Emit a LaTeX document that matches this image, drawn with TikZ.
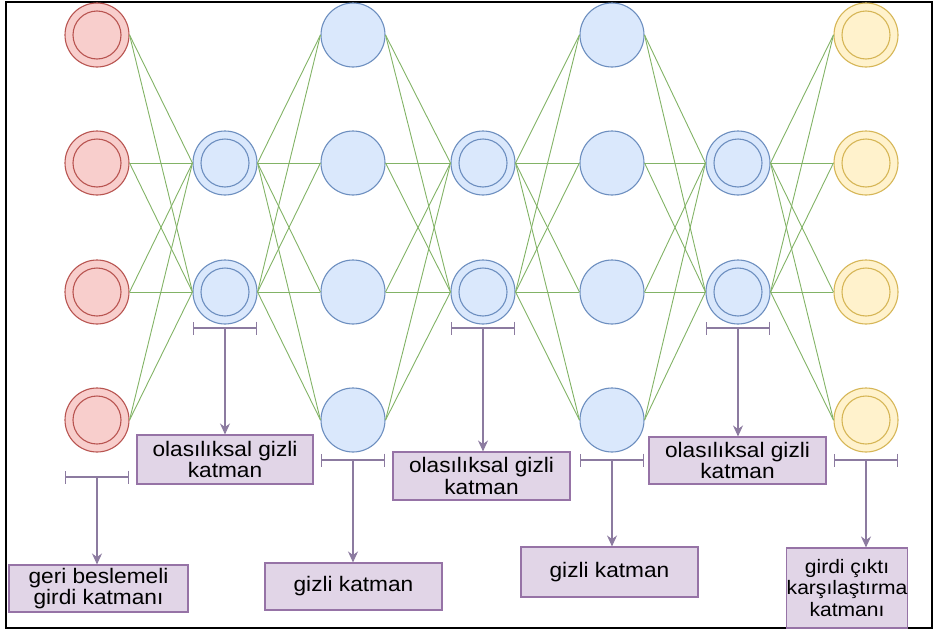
\documentclass[tikz,border=0pt]{standalone}
\usepackage{fontspec}
\setmainfont[FakeStretch=1.08]{Liberation Sans}
\usepackage{tikz}
\usetikzlibrary{arrows.meta}
\usepackage{xcolor}

\definecolor{redfill}{HTML}{F8CECC}
\definecolor{redline}{HTML}{B85450}
\definecolor{bluefill}{HTML}{DAE8FC}
\definecolor{blueline}{HTML}{6C8EBF}
\definecolor{yelfill}{HTML}{FFF2CC}
\definecolor{yelline}{HTML}{D6B656}
\definecolor{linkgreen}{HTML}{82B366}
\definecolor{boxfill}{HTML}{E1D5E7}
\definecolor{boxline}{HTML}{9673A6}
\definecolor{pointcol}{HTML}{8C7BA0}

\begin{document}
\begin{tikzpicture}[x=1pt, y=-1pt,
        unit/.style={circle, minimum size=64pt, inner sep=0pt, line width=1.1pt},
        redn/.style={unit, fill=redfill, draw=redline},
        bluen/.style={unit, fill=bluefill, draw=blueline},
        yeln/.style={unit, fill=yelfill, draw=yelline},
        link/.style={linkgreen, line width=0.9pt},
        labelbox/.style={draw=boxline, fill=boxfill, line width=1.1pt, align=center,
            inner sep=0pt, font=\fontsize{21}{21.5}\selectfont},
        bracket/.style={pointcol, line width=1.1pt, {Bar[width=13pt]}-{Bar[width=13pt]}},
        pointer/.style={pointcol, line width=1.1pt, -{Stealth[length=11pt, width=10pt]}}]
        \useasboundingbox (0,0) rectangle (937,632);
        \draw[line width=2pt] (6,2) rectangle (932,628);
        % units
        \foreach \r/\y in {1/35, 2/163, 3/292, 4/420}
        {
            \node[redn] (a\r) at (97,\y) {};
            \draw[redline, line width=1.1pt] (a\r.center) circle (24);
            \node[bluen] (c\r) at (353,\y) {};
            \node[bluen] (e\r) at (612,\y) {};
            \node[yeln] (g\r) at (866,\y) {};
            \draw[yelline, line width=1.1pt] (g\r.center) circle (24);
        }
        \foreach \r/\y in {2/163, 3/292}
        {
            \node[bluen] (b\r) at (225,\y) {};
            \node[bluen] (d\r) at (483,\y) {};
            \node[bluen] (f\r) at (738,\y) {};
            \foreach \k in {b,d,f}
                \draw[blueline, line width=1.1pt] (\k\r.center) circle (24);
        }
        % links
        \foreach \s in {1,...,4}
            \foreach \t in {2,3}
            {
                \draw[link] (a\s.east) -- (b\t.west);
                \draw[link] (b\t.east) -- (c\s.west);
                \draw[link] (c\s.east) -- (d\t.west);
                \draw[link] (d\t.east) -- (e\s.west);
                \draw[link] (e\s.east) -- (f\t.west);
                \draw[link] (f\t.east) -- (g\s.west);
            }
        % labels
        \node[labelbox, minimum width=179pt, minimum height=47pt] (la) at (98.5,588.5) {geri beslemeli\\girdi katmanı};
        \node[labelbox, minimum width=176pt, minimum height=49pt] (lb) at (225,459.5) {olasılıksal gizli\\katman};
        \node[labelbox, minimum width=177pt, minimum height=47pt] (lc) at (353.5,586.5) {gizli katman};
        \node[labelbox, minimum width=177pt, minimum height=48pt] (ld) at (481.5,476) {olasılıksal gizli\\katman};
        \node[labelbox, minimum width=177pt, minimum height=50pt] (le) at (609.5,572) {gizli katman};
        \node[labelbox, minimum width=177pt, minimum height=47pt] (lf) at (737.5,460.5) {olasılıksal gizli\\katman};
        \node[labelbox, minimum width=116pt, minimum height=80pt, font=\fontsize{19.5}{21.5}\selectfont] (lg) at (847,588) {girdi çıktı\\karşılaştırma\\katmanı};
        \foreach \k/\x/\y in {a/97/477, b/225/328, c/353/460, d/483/328, e/612/460, f/738/328, g/866/460}
        {
            \coordinate (k\k) at (\x,\y);
            \draw[bracket] ([xshift=-32pt]k\k) -- ([xshift=32pt]k\k);
            \draw[pointer] (k\k) -- (k\k |- l\k.north);
        }
    \end{tikzpicture}
\end{document}
